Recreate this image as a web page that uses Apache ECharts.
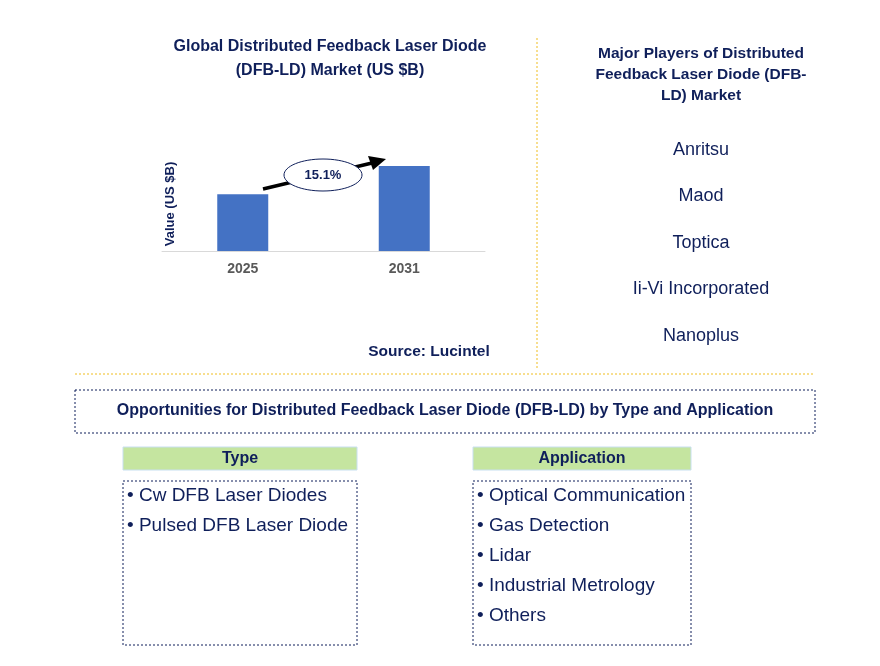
<!DOCTYPE html><html><head><meta charset="utf-8"><script src="https://cdn.jsdelivr.net/npm/echarts@6/dist/echarts.min.js"></script>
<style>body{margin:0}#c{width:880px;height:666px}</style></head><body><div id="c"></div><script>
const years=['2025','2031'];
const values=[3.4,5.1];
const cagr='15.1%';
const players=['Anritsu','Maod','Toptica','Ii-Vi Incorporated','Nanoplus'];
const types=['Cw DFB Laser Diodes','Pulsed DFB Laser Diode'];
const apps=['Optical Communication','Gas Detection','Lidar','Industrial Metrology','Others'];
const navy='#0f1f5a',F='Liberation Sans, Arial, sans-serif',gold='#f0be20';
const ch=echarts.init(document.getElementById('c'));
const g=[];
const txt=(x,y,t,o)=>g.push({type:'text',x,y,style:Object.assign({text:t,fill:navy,font:'18px '+F,textAlign:'center',textVerticalAlign:'middle'},o||{})});
const dash=(x,y,w,h)=>g.push({type:'rect',shape:{x,y,width:w,height:h},style:{fill:null,stroke:navy,lineWidth:1,lineDash:[2,2]}});
txt(330,59,'Global Distributed Feedback Laser Diode\n(DFB-LD) Market (US $B)',{font:'bold 16px '+F,lineHeight:24});
txt(429,352,'Source: Lucintel',{font:'bold 15.5px '+F});
txt(701,75,'Major Players of Distributed\nFeedback Laser Diode (DFB-\nLD) Market',{font:'bold 15.5px '+F,lineHeight:21});
players.forEach((p,i)=>txt(701,150+i*46.5,p));
g.push({type:'line',shape:{x1:537,y1:38,x2:537,y2:370},style:{stroke:gold,lineDash:[2,2],lineWidth:1}});
g.push({type:'line',shape:{x1:75,y1:374,x2:815,y2:374},style:{stroke:gold,lineDash:[2,2],lineWidth:1}});
dash(75,390,740,43);
txt(445,411,'Opportunities for Distributed Feedback Laser Diode (DFB-LD) by Type and Application',{font:'bold 16px '+F});
[[123,234,'Type',types],[473,218,'Application',apps]].forEach(([x,w,h,items])=>{
 g.push({type:'rect',shape:{x,y:447,width:w,height:23},style:{fill:'#c5e5a0',stroke:'#c8dff0'}});
 txt(x+w/2,459,h,{font:'bold 16px '+F});
 dash(x,481,w,164);
 items.forEach((t,i)=>txt(x+4,496+i*30,'• '+t,{textAlign:'left',font:'19px '+F}));
});
g.push({type:'line',shape:{x1:263,y1:189,x2:372,y2:163},style:{stroke:'#000',lineWidth:3.5}});
g.push({type:'polygon',shape:{points:[[386,159],[368,156],[373,170]]},style:{fill:'#000'}});
g.push({type:'ellipse',shape:{cx:323,cy:175,rx:39,ry:16},style:{fill:'#fff',stroke:navy,lineWidth:1}});
txt(323,175,cagr,{font:'bold 13px '+F});
ch.setOption({animation:false,
grid:{left:162,right:395,top:141,height:110},
xAxis:{type:'category',data:years,axisTick:{show:false},axisLine:{lineStyle:{color:'#d9d9d9'}},axisLabel:{color:'#595959',fontWeight:'bold',fontSize:14,fontFamily:F,margin:11}},
yAxis:{type:'value',min:0,max:6.6,show:false,name:'Value (US $B)'},
series:[{type:'bar',data:values,barWidth:51,itemStyle:{color:'#4472c4'}}],
graphic:g.concat([{type:'text',x:170,y:204,rotation:Math.PI/2,style:{text:'Value (US $B)',fill:navy,font:'bold 13px '+F,textAlign:'center',textVerticalAlign:'middle'}}])});
</script></body></html>
